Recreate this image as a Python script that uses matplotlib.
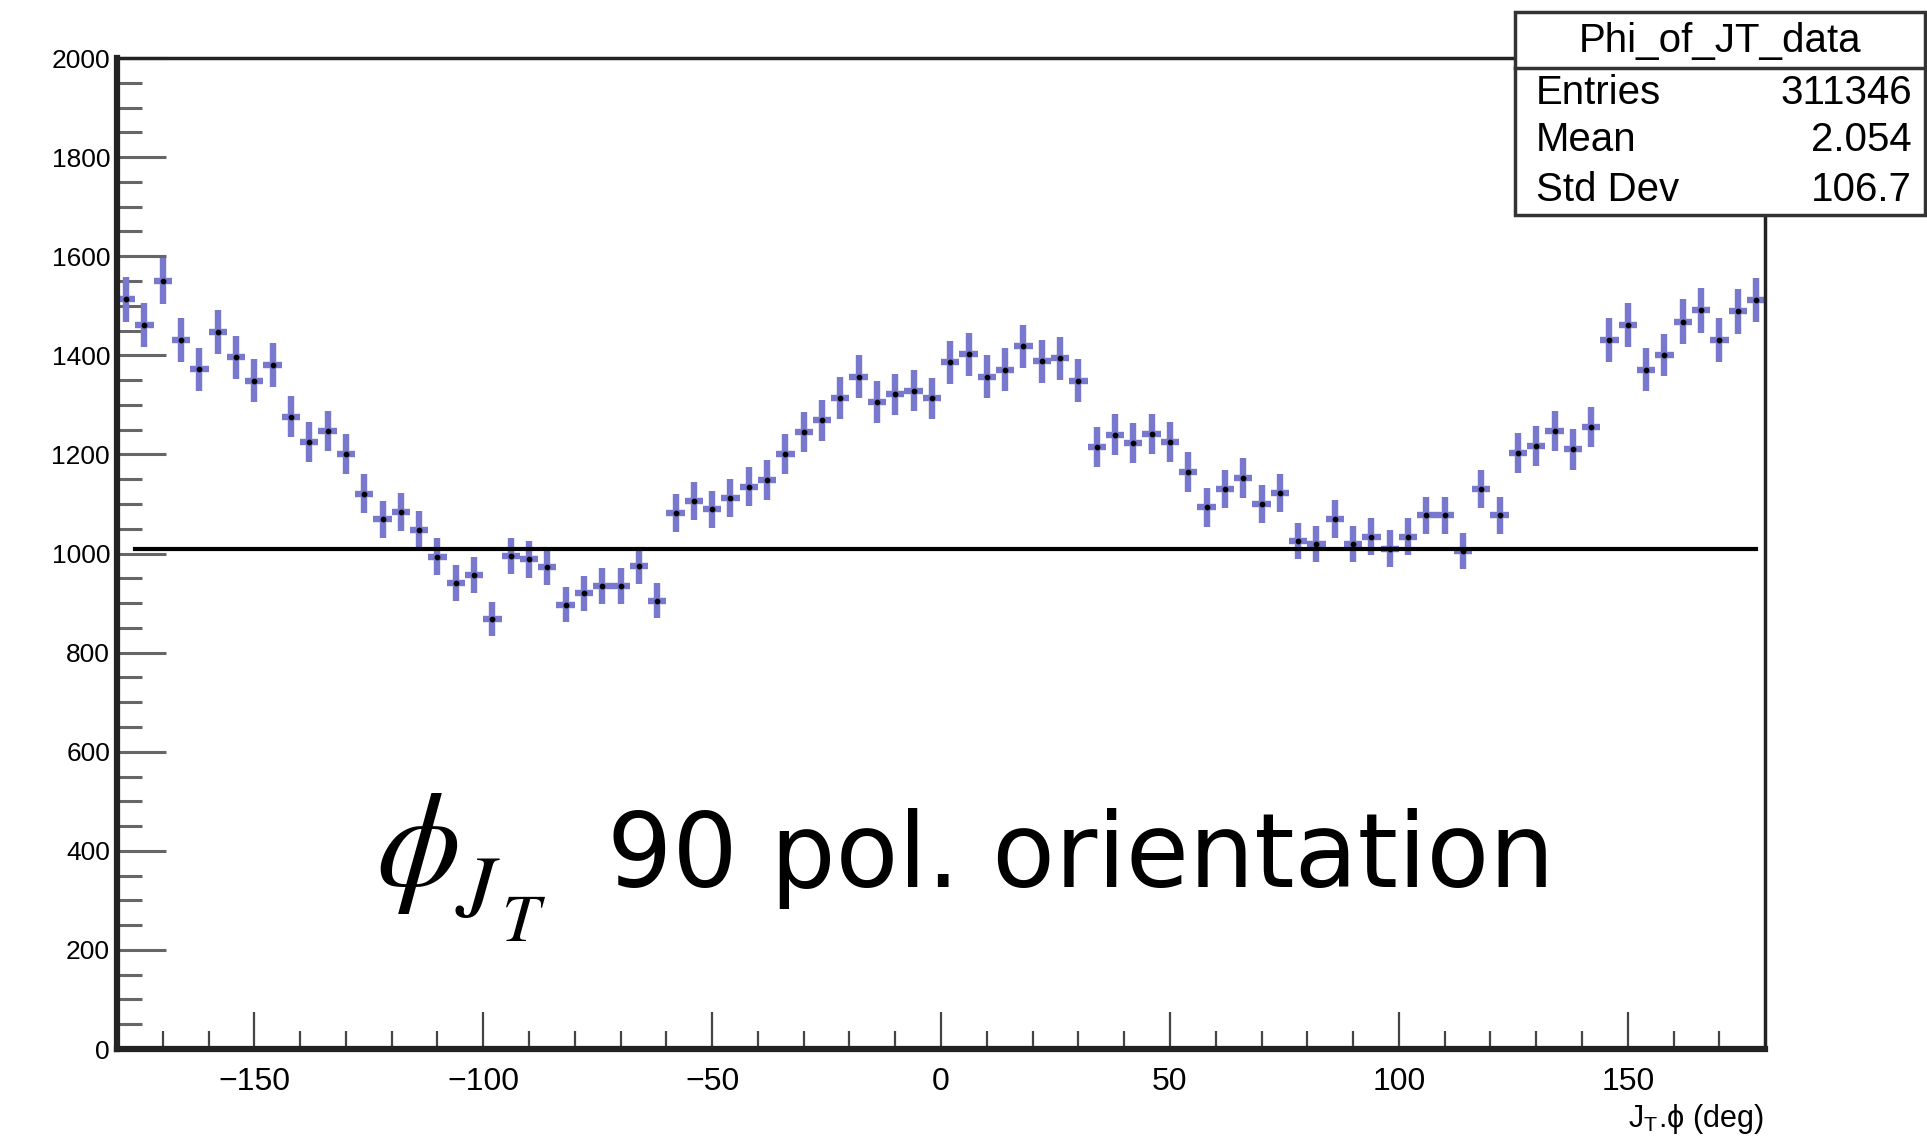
import numpy as np
import matplotlib.pyplot as plt
from matplotlib.lines import Line2D
from matplotlib.patches import Rectangle

# bin centres (deg) and contents
bin_lo = -180
bin_w = 4
counts = [1513, 1461, 1550, 1431, 1372, 1447, 1396, 1349, 1380, 1276,
          1225, 1247, 1201, 1121, 1069, 1084, 1047, 994, 941, 957,
          868, 995, 988, 972, 897, 920, 935, 935, 974, 905,
          1082, 1106, 1089, 1112, 1135, 1149, 1201, 1245, 1269, 1314,
          1357, 1306, 1321, 1329, 1313, 1386, 1402, 1357, 1371, 1418,
          1388, 1394, 1349, 1215, 1240, 1223, 1241, 1225, 1165, 1093,
          1130, 1152, 1100, 1122, 1025, 1019, 1070, 1019, 1034, 1010,
          1034, 1077, 1077, 1005, 1130, 1077, 1203, 1217, 1247, 1210,
          1255, 1431, 1461, 1371, 1401, 1468, 1491, 1431, 1489, 1512]
errors = [45, 44, 46, 44, 43, 44, 44, 43, 44, 41,
          41, 41, 41, 39, 38, 38, 38, 37, 36, 36,
          35, 37, 37, 36, 35, 35, 36, 36, 36, 35,
          38, 39, 38, 39, 39, 40, 41, 41, 41, 42,
          43, 42, 42, 42, 42, 43, 44, 43, 43, 44,
          43, 43, 43, 41, 41, 41, 41, 41, 40, 39,
          39, 40, 39, 39, 37, 37, 38, 37, 37, 37,
          37, 38, 38, 37, 39, 38, 41, 41, 41, 41,
          41, 44, 44, 43, 43, 45, 45, 44, 45, 45]
centers = bin_lo + bin_w / 2 + bin_w * np.arange(len(counts))

fit_level = 1010
fit_range = [-176, 178]

stats_title = "Phi_of_JT_data"
stats_rows = [("Entries", "311346"), ("Mean", "2.054"), ("Std Dev", "106.7")]

plt.rcParams['font.family'] = ['Liberation Sans', 'DejaVu Sans']
plt.rcParams['mathtext.fontset'] = 'stix'

fig = plt.figure(figsize=(19.27, 11.42), dpi=100)
ax = fig.add_axes([0.0607, 0.0814, 0.8553, 0.8678])

ax.errorbar(centers, counts, yerr=errors, xerr=bin_w / 2, fmt='none',
            ecolor='#7878cf', elinewidth=4.6, capsize=0, zorder=2)
ax.plot(centers, counts, 'o', color='black', markersize=3.2, zorder=3)
ax.plot(fit_range, [fit_level, fit_level], color='black', lw=3, zorder=4)

ax.set_xlim(-180, 180)
ax.set_ylim(0, 2000)
ax.set_xticks(np.arange(-150, 151, 50))
ax.set_xticks(np.arange(-170, 180, 10), minor=True)
ax.set_yticks(np.arange(0, 2001, 200))
ax.set_yticks(np.arange(0, 2001, 50), minor=True)

ax.tick_params(axis='y', which='major', direction='in', length=35, width=2.2,
               color='#666666', labelsize=19, pad=5)
ax.tick_params(axis='y', which='minor', direction='in', length=18, width=2.2,
               color='#666666')
ax.tick_params(axis='x', which='major', direction='in', length=27, width=1.6,
               color='#444444', labelsize=23, pad=13)
ax.tick_params(axis='x', which='minor', direction='in', length=13, width=1.6,
               color='#444444')

for side, lw in [('left', 4.5), ('bottom', 4.5), ('top', 2.5), ('right', 2.5)]:
    ax.spines[side].set_linewidth(lw)
    ax.spines[side].set_color('#222222')

ax.set_xlabel("J$_{\\mathregular{T}}$.\u03d5 (deg)", fontsize=22, ha='right')
ax.xaxis.set_label_coords(0.999, -0.053)

# overlaid annotation
fig.text(0.195, 0.224, r"$\phi$", fontsize=97, ha='left', va='baseline')
fig.text(0.236, 0.198, r"$J$", fontsize=64, ha='left', va='baseline')
fig.text(0.260, 0.176, r"$T$", fontsize=49, ha='left', va='baseline')
fig.text(0.315, 0.223, "90 pol. orientation", fontsize=74, ha='left',
         va='baseline', family='DejaVu Sans')

# stats box
bx0, by0, bx1, by1 = 0.786, 0.812, 0.999, 0.9895
fig.patches.append(Rectangle((bx0, by0), bx1 - bx0, by1 - by0,
                             transform=fig.transFigure, facecolor='white',
                             edgecolor='#333333', lw=2.5, zorder=10))
fig.lines.append(Line2D([bx0, bx1], [0.9405, 0.9405], transform=fig.transFigure,
                        color='#333333', lw=2.5, zorder=11))
fig.text((bx0 + bx1) / 2, 0.964, stats_title, fontsize=29, ha='center',
         va='center', zorder=12)
for (name, val), yy in zip(stats_rows, [0.919, 0.877, 0.834]):
    fig.text(0.797, yy, name, fontsize=29, ha='left', va='center', zorder=12)
    fig.text(0.992, yy, val, fontsize=29, ha='right', va='center', zorder=12)

fig.savefig("out.png", dpi=100)
